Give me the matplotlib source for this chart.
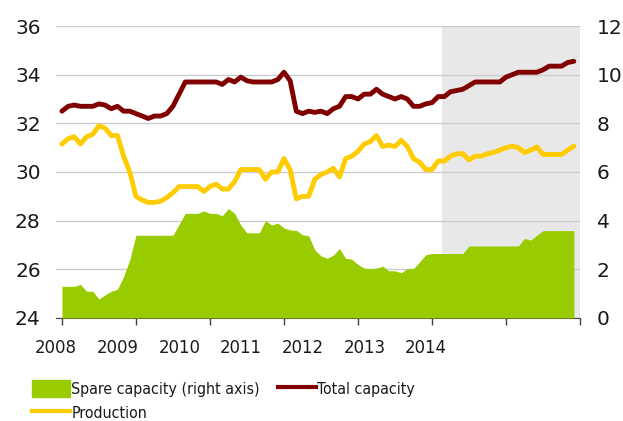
import numpy as np
import matplotlib
matplotlib.use('Agg')
import matplotlib.pyplot as plt
from matplotlib import font_manager
from matplotlib.patches import Patch
from matplotlib.lines import Line2D

# monthly data, Jan 2008 - Dec 2014
total_capacity = [32.5, 32.7, 32.75, 32.7, 32.7, 32.7, 32.8, 32.75, 32.6, 32.7, 32.5, 32.5,
                  32.4, 32.3, 32.2, 32.3, 32.3, 32.4, 32.7, 33.2, 33.7, 33.7, 33.7, 33.7,
                  33.7, 33.7, 33.6, 33.8, 33.7, 33.9, 33.75, 33.7, 33.7, 33.7, 33.7, 33.8,
                  34.1, 33.75, 32.5, 32.4, 32.5, 32.45, 32.5, 32.4, 32.6, 32.7, 33.1, 33.1,
                  33.0, 33.2, 33.2, 33.4, 33.2, 33.1, 33.0, 33.1, 33.0, 32.7, 32.7, 32.8,
                  32.85, 33.1, 33.1, 33.3, 33.35, 33.4, 33.55, 33.7, 33.7, 33.7, 33.7, 33.7,
                  33.9, 34.0, 34.1, 34.1, 34.1, 34.1, 34.2, 34.35, 34.35, 34.35, 34.5, 34.55]
production = [31.15, 31.37, 31.45, 31.15, 31.45, 31.55, 31.9, 31.8, 31.5, 31.5, 30.65, 30.0,
              29.0, 28.85, 28.75, 28.75, 28.8, 28.95, 29.15, 29.4, 29.4, 29.4, 29.4, 29.2,
              29.4, 29.5, 29.3, 29.3, 29.6, 30.1, 30.1, 30.1, 30.1, 29.7, 30.0, 30.0,
              30.55, 30.1, 28.9, 29.0, 29.0, 29.7, 29.9, 30.0, 30.15, 29.8, 30.55, 30.65,
              30.85, 31.15, 31.25, 31.5, 31.05, 31.1, 31.05, 31.3, 31.05, 30.55, 30.4, 30.1,
              30.1, 30.45, 30.45, 30.65, 30.75, 30.75, 30.5, 30.65, 30.65, 30.75, 30.8, 30.9,
              31.0, 31.06, 31.0, 30.8, 30.9, 31.03, 30.72, 30.72, 30.72, 30.72, 30.9, 31.06]
spare_capacity = [1.3, 1.3, 1.3, 1.38, 1.1, 1.1, 0.78, 0.95, 1.1, 1.18, 1.7, 2.4,
                  3.4, 3.4, 3.4, 3.4, 3.4, 3.4, 3.4, 3.85, 4.3, 4.3, 4.3, 4.4,
                  4.3, 4.3, 4.2, 4.5, 4.3, 3.82, 3.5, 3.5, 3.5, 4.0, 3.82, 3.9,
                  3.7, 3.62, 3.6, 3.42, 3.38, 2.8, 2.55, 2.45, 2.58, 2.86, 2.45, 2.42,
                  2.2, 2.05, 2.03, 2.05, 2.13, 1.94, 1.94, 1.86, 2.03, 2.03, 2.31, 2.6,
                  2.65, 2.65, 2.65, 2.65, 2.65, 2.65, 2.96, 2.96, 2.96, 2.96, 2.96, 2.96,
                  2.96, 2.96, 2.96, 3.27, 3.2, 3.4, 3.59, 3.59, 3.59, 3.59, 3.59, 3.59]
years = [2008, 2009, 2010, 2011, 2012, 2013, 2014]
forecast_start = 2013.14

x = 2008 + np.arange(len(total_capacity)) / 12

# the original uses a narrow face; take a condensed one if there is any
faces = font_manager.fontManager.ttflist
if any(f.name == 'Liberation Sans Narrow' for f in faces):
    narrow = dict(family='Liberation Sans Narrow', stretch='normal')
elif any(f.name == 'DejaVu Sans' and f.stretch == 'condensed' for f in faces):
    narrow = dict(family='DejaVu Sans', stretch='condensed')
else:
    narrow = dict(family='Liberation Sans', stretch='normal')

text_col = '#1a1a1a'

fig = plt.figure(figsize=(6.23, 4.21), dpi=100)
ax = fig.add_axes([0.0899, 0.2447, 0.8411, 0.6935])
ax2 = ax.twinx()

# shaded forecast period
ax.axvspan(forecast_start, 2015, color='#e8e8e8', lw=0, zorder=0.2)
ax.set_axisbelow(True)
ax.grid(axis='y', color='#cccccc', lw=1)

ax.plot(x, total_capacity, color='#800000', lw=3.5, solid_capstyle='round', solid_joinstyle='round')
ax.plot(x, production, color='#ffcc00', lw=3.5, solid_capstyle='round', solid_joinstyle='round')
ax2.fill_between(x, 0, spare_capacity, color='#99cc00', lw=0)

ax.set_xlim(2008, 2015)
ax.set_ylim(24, 36)
ax2.set_ylim(0, 12)
ax.set_yticks(np.arange(24, 37, 2))
ax2.set_yticks(np.arange(0, 13, 2))

for a in (ax, ax2):
    for s in ('left', 'right', 'top'):
        a.spines[s].set_visible(False)
ax2.spines['bottom'].set_visible(False)
ax.spines['bottom'].set_color('#404040')

ax.tick_params(axis='y', length=0, pad=11, labelsize=14.5, labelcolor=text_col)
ax2.tick_params(axis='y', length=0, pad=12, labelsize=14.5, labelcolor=text_col)

# year ticks, labels sit a little left of the ticks like in the original
ax.set_xticks(np.arange(2008, 2016), [''] * 8)
ax.tick_params(axis='x', which='major', length=5, color='#404040', width=1)
label_pos = 2007.92 + 0.8333 * np.arange(len(years))
ax.set_xticks(label_pos, [str(y) for y in years], minor=True)
ax.tick_params(axis='x', which='minor', length=0, pad=15, labelcolor=text_col)

handles = [Patch(color='#99cc00'),
           Line2D([], [], color='#ffcc00', lw=3),
           Line2D([], [], color='#800000', lw=3)]
labels = ['Spare capacity (right axis)', 'Production', 'Total capacity']


def set_year_size(size):
    for t in ax.get_xticklabels(minor=True):
        t.set_family(narrow['family'])
        t.set_stretch(narrow['stretch'])
        t.set_fontsize(size)


def make_legend(size):
    return fig.legend(handles, labels, ncol=2, loc='upper left', bbox_to_anchor=(0.0514, 0.097),
                      frameon=False, borderpad=0, borderaxespad=0, handlelength=27.6 / size,
                      handleheight=14.4 / size, handletextpad=0.05, columnspacing=13 / size,
                      labelspacing=0.45, prop={'family': narrow['family'], 'stretch': narrow['stretch'],
                                               'size': size}, labelcolor=text_col)


# fit text widths to the original (2008 ~42 px, first legend entry ~188 px)
set_year_size(13)
leg = make_legend(12)
fig.canvas.draw()
r = fig.canvas.get_renderer()
w_year = ax.get_xticklabels(minor=True)[0].get_window_extent(r).width
w_leg = leg.get_texts()[0].get_window_extent(r).width
set_year_size(13 * 42 / w_year)
leg.remove()
leg = make_legend(12 * 188 / w_leg)

fig.savefig('out.png', dpi=100)
